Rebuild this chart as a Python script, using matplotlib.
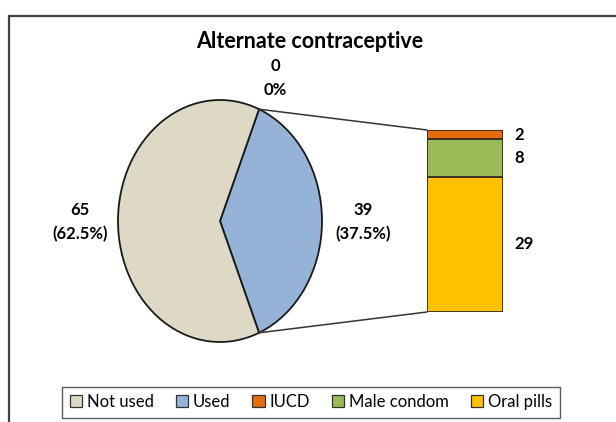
import numpy as np
import matplotlib.pyplot as plt
from matplotlib.patches import ConnectionPatch, Patch

plt.rcParams['font.family'] = ['Lato', 'DejaVu Sans']

# pie: respondents who did / did not use an alternate method
pie_names = ['Not used', 'Used']
pie_counts = [65, 39]
empty_count = 0  # empty category, still labelled on the pie
pie_colors = ['#DDD9C4', '#95B3D7']

# breakdown of the "Used" slice
method_names = ['IUCD', 'Male condom', 'Oral pills']
method_counts = [2, 8, 29]
method_colors = ['#E46C0A', '#9BBB59', '#FFC000']

W, H = 616, 422
fig = plt.figure(figsize=(W / 100, H / 100), dpi=100)

# pixel-space layer for the frame, title and labels
bg = fig.add_axes([0, 0, 1, 1])
bg.set_xlim(0, W)
bg.set_ylim(H, 0)
bg.axis('off')
bg.plot([8.5, 8.5, W], [H, 15.5, 15.5], color='#404040', lw=1.6,
        solid_joinstyle='miter')
bg.text(310, 42, 'Alternate contraceptive', ha='center', va='center',
        fontsize=15.5, fontweight='bold')

total = sum(pie_counts) + empty_count
used_share = pie_counts[1] / total * 360
half = used_share / 2

# pie drawn in its own axes with free aspect -> elliptical pie
pax = fig.add_axes([118 / W, 1 - 342 / H, 204 / W, 242 / H])
pax.pie([pie_counts[1], pie_counts[0]], colors=[pie_colors[1], pie_colors[0]],
        startangle=-half, counterclock=True,
        wedgeprops=dict(edgecolor='#1a1a1a', linewidth=1.3, clip_on=False))
pax.set_aspect('auto')
pax.set_xlim(-1, 1)
pax.set_ylim(-1, 1)

# pie data labels
lab = dict(ha='center', va='center', fontsize=12, fontweight='bold',
           linespacing=1.55)
bg.text(80, 222, f"{pie_counts[0]}\n({pie_counts[0] / total * 100:.1f}%)", **lab)
bg.text(363, 222, f"{pie_counts[1]}\n({pie_counts[1] / total * 100:.1f}%)", **lab)
bg.text(275, 78, f"{empty_count}\n{empty_count / total * 100:.0f}%", **lab)

# stacked bar for the split of the "Used" slice
bax = fig.add_axes([427 / W, 1 - 312 / H, 76 / W, 182 / H])
bottoms = np.concatenate([[0], np.cumsum(method_counts[::-1])[:-1]])
for name, cnt, col, b in zip(method_names[::-1], method_counts[::-1],
                             method_colors[::-1], bottoms):
    bax.bar(0, cnt, bottom=b, width=1, color=col, edgecolor='#3b2a1a',
            linewidth=1.3)
    bax.annotate(str(cnt), xy=(0.5, b + cnt / 2), xytext=(8, 0),
                 textcoords='offset points', ha='left', va='center',
                 fontsize=12, fontweight='bold', annotation_clip=False)
bax.set_xlim(-0.5, 0.5)
bax.set_ylim(0, sum(method_counts))
bax.axis('off')

# connector lines from the "Used" slice edges to the bar
ang = np.radians(half)
for sign, yb in [(1, sum(method_counts)), (-1, 0)]:
    con = ConnectionPatch(xyA=(np.cos(ang), sign * np.sin(ang)), coordsA=pax.transData,
                          xyB=(-0.5, yb), coordsB=bax.transData,
                          color='#333333', lw=1.1)
    fig.add_artist(con)

handles = [Patch(facecolor=c, edgecolor='#333333', lw=0.9, label=n)
           for n, c in zip(pie_names + method_names, pie_colors + method_colors)]
leg = fig.legend(handles=handles, loc='center', bbox_to_anchor=(311 / W, 1 - 402 / H),
                 ncol=5, frameon=True, fancybox=False, edgecolor='#333333',
                 fontsize=12, handlelength=0.75, handleheight=0.75,
                 handletextpad=0.3, columnspacing=1.3, borderpad=0.45)
leg.get_frame().set_linewidth(1.0)

fig.savefig('out.png', dpi=100)
